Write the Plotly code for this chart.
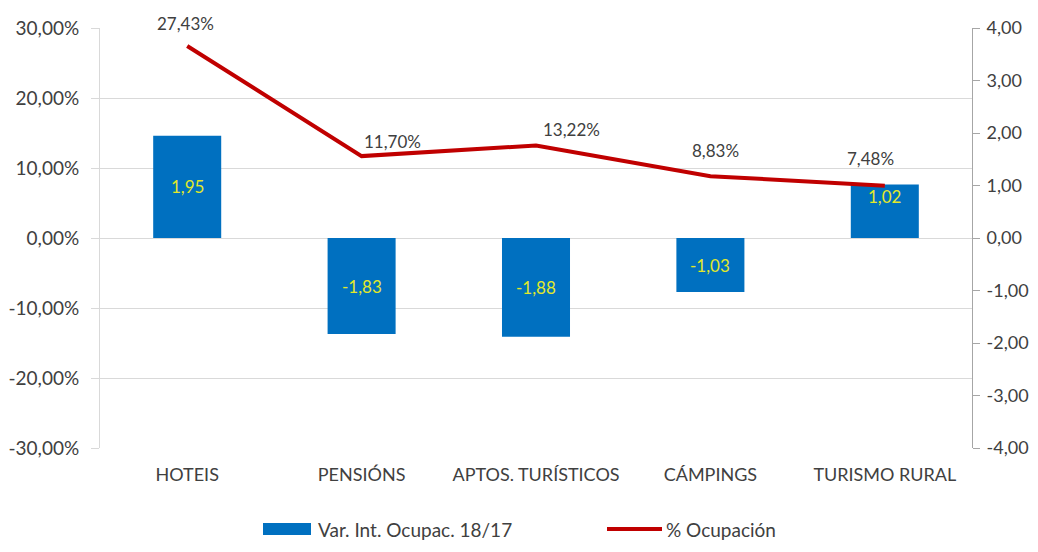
import plotly.graph_objects as go

categories = ["HOTEIS", "PENSIÓNS", "APTOS. TURÍSTICOS", "CÁMPINGS", "TURISMO RURAL"]
var_int = [1.95, -1.83, -1.88, -1.03, 1.02]
ocupacion = [0.2743, 0.1170, 0.1322, 0.0883, 0.0748]
left_ticks = [-0.3, -0.2, -0.1, 0.0, 0.1, 0.2, 0.3]
right_ticks = [-4, -3, -2, -1, 0, 1, 2, 3, 4]
series_names = ["Var. Int. Ocupac. 18/17", "% Ocupación"]

# label offsets (style, in px)
line_lbl_dx = [-2, 31, 35, 5, -14]
line_lbl_dy = [22, 15, 16, 26, 27]
bar_lbl_dy = [0, 0, 0, 0, 15]


def fmt(v, dec=2, pct=False):
    s = f"{v * 100 if pct else v:.{dec}f}".replace(".", ",")
    return s + ("%" if pct else "")


FONT = "Lato"
TXT = "#404040"
BLUE = "#0070C0"
RED = "#C00000"

W, H = 1022, 536
L, R, T, B = 92, 58, 20, 96
PW, PH = W - L - R, H - T - B

fig = go.Figure()

fig.add_trace(go.Bar(
    x=categories, y=var_int, name=series_names[0],
    marker=dict(color=BLUE, line=dict(width=0)),
    width=0.39, yaxis="y", showlegend=False,
))
fig.add_trace(go.Scatter(
    x=categories, y=ocupacion, name=series_names[1], mode="lines",
    line=dict(color=RED, width=4),
    yaxis="y2", showlegend=False,
))

annotations = []
for i, c in enumerate(categories):
    annotations.append(dict(
        x=c, y=ocupacion[i], xref="x", yref="y2", text=fmt(ocupacion[i], pct=True),
        showarrow=False, xshift=line_lbl_dx[i], yshift=line_lbl_dy[i],
        font=dict(family=FONT, size=17, color=TXT),
    ))
    annotations.append(dict(
        x=c, y=var_int[i] / 2, xref="x", yref="y", text=fmt(var_int[i]),
        showarrow=False, yshift=bar_lbl_dy[i],
        font=dict(family=FONT, size=17, color="#E2E82A"),
    ))

# custom legend (paper coords)
leg_y = (PH - (521 - T)) / PH
def px(xp):
    return (xp - L) / PW
shapes = [
    dict(type="rect", xref="paper", yref="paper",
         x0=px(255), x1=px(303), y0=leg_y - 6 / PH, y1=leg_y + 6 / PH,
         fillcolor=BLUE, line=dict(width=0)),
    dict(type="line", xref="paper", yref="paper",
         x0=px(599), x1=px(654), y0=leg_y, y1=leg_y,
         line=dict(color=RED, width=4)),
]
annotations.append(dict(x=px(308), y=leg_y, xref="paper", yref="paper", text=series_names[0],
                        showarrow=False, xanchor="left", yanchor="middle",
                        font=dict(family=FONT, size=19, color=TXT)))
annotations.append(dict(x=px(656), y=leg_y, xref="paper", yref="paper", text=series_names[1],
                        showarrow=False, xanchor="left", yanchor="middle",
                        font=dict(family=FONT, size=19, color=TXT)))

fig.update_layout(
    width=W, height=H,
    margin=dict(l=L, r=R, t=T, b=B, pad=0, autoexpand=False),
    paper_bgcolor="white", plot_bgcolor="white",
    font=dict(family=FONT, size=19, color=TXT),
    showlegend=False,
    annotations=annotations, shapes=shapes,
    xaxis=dict(showgrid=False, showline=False, ticks="", tickfont=dict(size=18, color=TXT),
               ticklabelstandoff=14, automargin=False),
    xaxis2=dict(overlaying="x", anchor="free", position=0.5, side="bottom",
                range=[-0.5, 4.5], tickvals=[0.5, 1.5, 2.5, 3.5], showticklabels=False,
                showline=True, linecolor="#BFBFBF", linewidth=1.5, ticks="outside",
                ticklen=6, tickcolor="#BFBFBF", showgrid=False, zeroline=False,
                automargin=False),
    yaxis=dict(side="right", range=[-4, 4], tickvals=right_ticks,
               ticktext=[fmt(v) for v in right_ticks],
               showgrid=False, zeroline=False, showline=True, linecolor="#A6A6A6",
               ticks="outside", ticklen=7, tickcolor="#A6A6A6",
               tickfont=dict(size=18, color=TXT), ticklabelstandoff=3, automargin=False),
    yaxis2=dict(side="left", overlaying="y", range=[-0.3, 0.3], tickvals=left_ticks,
                ticktext=[fmt(v, pct=True) for v in left_ticks],
                showgrid=True, gridcolor="#D9D9D9", gridwidth=1, zeroline=False,
                showline=True, linecolor="#D9D9D9",
                ticks="outside", ticklen=8, tickcolor="#D9D9D9",
                tickfont=dict(size=19, color=TXT), ticklabelstandoff=8, automargin=False),
)

fig.write_html("out.html")
